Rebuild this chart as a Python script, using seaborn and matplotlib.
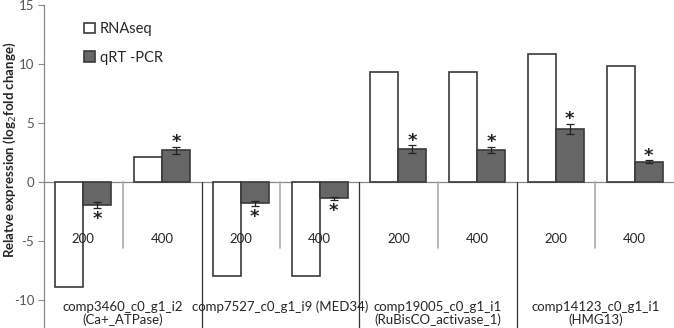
import numpy as np
import pandas as pd
import seaborn as sns
import matplotlib.pyplot as plt
import matplotlib.transforms as mtransforms
from matplotlib.patches import Patch

genes = ["comp3460_c0_g1_i2\n(Ca+_ATPase)",
         "comp7527_c0_g1_i9 (MED34)",
         "comp19005_c0_g1_i1\n(RuBisCO_activase_1)",
         "comp14123_c0_g1_i1\n(HMG13)"]
levels = ["200", "400"]
rnaseq = [-8.9, 2.15, -8.0, -8.0, 9.35, 9.35, 10.85, 9.85]
qpcr = [-1.95, 2.7, -1.8, -1.38, 2.8, 2.75, 4.5, 1.72]
qpcr_err = [0.25, 0.3, 0.2, 0.15, 0.3, 0.25, 0.45, 0.15]

slots = [f"{g}|{l}" for g in range(len(genes)) for l in levels]
df = pd.DataFrame({
    "slot": slots * 2,
    "method": ["RNAseq"] * len(slots) + ["qRT -PCR"] * len(slots),
    "value": rnaseq + qpcr,
})

sns.set_theme(style="white")
plt.rcParams["font.family"] = ["Lato", "DejaVu Sans"]

fig = plt.figure(figsize=(6.74, 3.28), dpi=100)
ax = fig.add_axes([44 / 674, 0, 630 / 674, 1 - 5 / 328])

edge = "#3a3a3a"
txt = "#262626"
sns.barplot(data=df, x="slot", y="value", hue="method", order=slots,
            hue_order=["RNAseq", "qRT -PCR"],
            palette=["white", "#666666"], width=0.71, edgecolor=edge,
            linewidth=1.2, legend=False, ax=ax)

# error bars + significance stars on the qPCR bars
qbars = ax.containers[1]
for bar, v, e in zip(qbars, qpcr, qpcr_err):
    xc = bar.get_x() + bar.get_width() / 2
    ax.errorbar(xc, v, yerr=e, fmt="none", ecolor="#222222", elinewidth=0.9,
                capsize=3, capthick=0.9, zorder=5)
    if v >= 0:
        ax.annotate("*", (xc, v + e), xytext=(0, -3.5), textcoords="offset points",
                    ha="center", va="bottom", fontsize=13, fontweight="bold",
                    color="#222222", family="DejaVu Sans")
    else:
        ax.annotate("*", (xc, v - e), xytext=(0, -14.5), textcoords="offset points",
                    ha="center", va="bottom", fontsize=13, fontweight="bold",
                    color="#222222", family="DejaVu Sans")

ax.set_xlim(-0.5, len(slots) - 0.5)
ax.set_ylim(-12.37, 15)
ax.set_yticks([-10, -5, 0, 5, 10, 15])
ax.set_yticklabels(["-10", "-5", "0", "5", "10", "15"])
ax.tick_params(axis="y", direction="out", length=4, width=0.8, color="#888888",
               labelsize=9.5, labelcolor="#555555", pad=3, left=True)
ax.set_xticks([])
ax.set_xlabel("")
ax.set_ylabel("")
fig.text(10 / 674, 1 - 150 / 328, "Relatve expression (log$_2$fold change)",
         rotation=90, ha="center", va="center", fontsize=9.5,
         fontweight="bold", color=txt)

for s in ["top", "right", "bottom"]:
    ax.spines[s].set_visible(False)
ax.spines["left"].set_color("#888888")
ax.spines["left"].set_linewidth(0.9)
ax.axhline(0, color="#888888", lw=0.9, zorder=0.5)

# multi-level category axis
trans = mtransforms.blended_transform_factory(ax.transData, ax.transAxes)
y0 = 12.37 / 27.37
for i in range(len(slots)):
    ax.text(i, (12.37 - 4.85) / 27.37, levels[i % 2], transform=trans,
            ha="center", va="center", fontsize=9.5, color=txt)
for g in range(len(genes)):
    ax.text(2 * g + 0.5, (12.37 - 10.05) / 27.37, genes[g], transform=trans,
            ha="center", va="top", fontsize=9.5, color=txt,
            linespacing=1.05)
    ax.plot([2 * g + 0.5, 2 * g + 0.5], [(12.37 - 5.57) / 27.37, y0],
            transform=trans, color="#aaaaaa", lw=1.2, zorder=0.5)
    if g > 0:
        ax.plot([2 * g - 0.5, 2 * g - 0.5], [0, y0], transform=trans,
                color="#333333", lw=0.9, zorder=0.5)

handles = [Patch(facecolor="white", edgecolor=edge, linewidth=1.2, label="RNAseq"),
           Patch(facecolor="#666666", edgecolor=edge, linewidth=1.2, label="qRT -PCR")]
ax.legend(handles=handles, loc="upper left", bbox_to_anchor=(0.055, 0.965),
          frameon=False, fontsize=10.5, handlelength=0.75, handleheight=0.75,
          handletextpad=0.3, labelspacing=1.0, borderaxespad=0)

fig.savefig("out.png", dpi=100)
